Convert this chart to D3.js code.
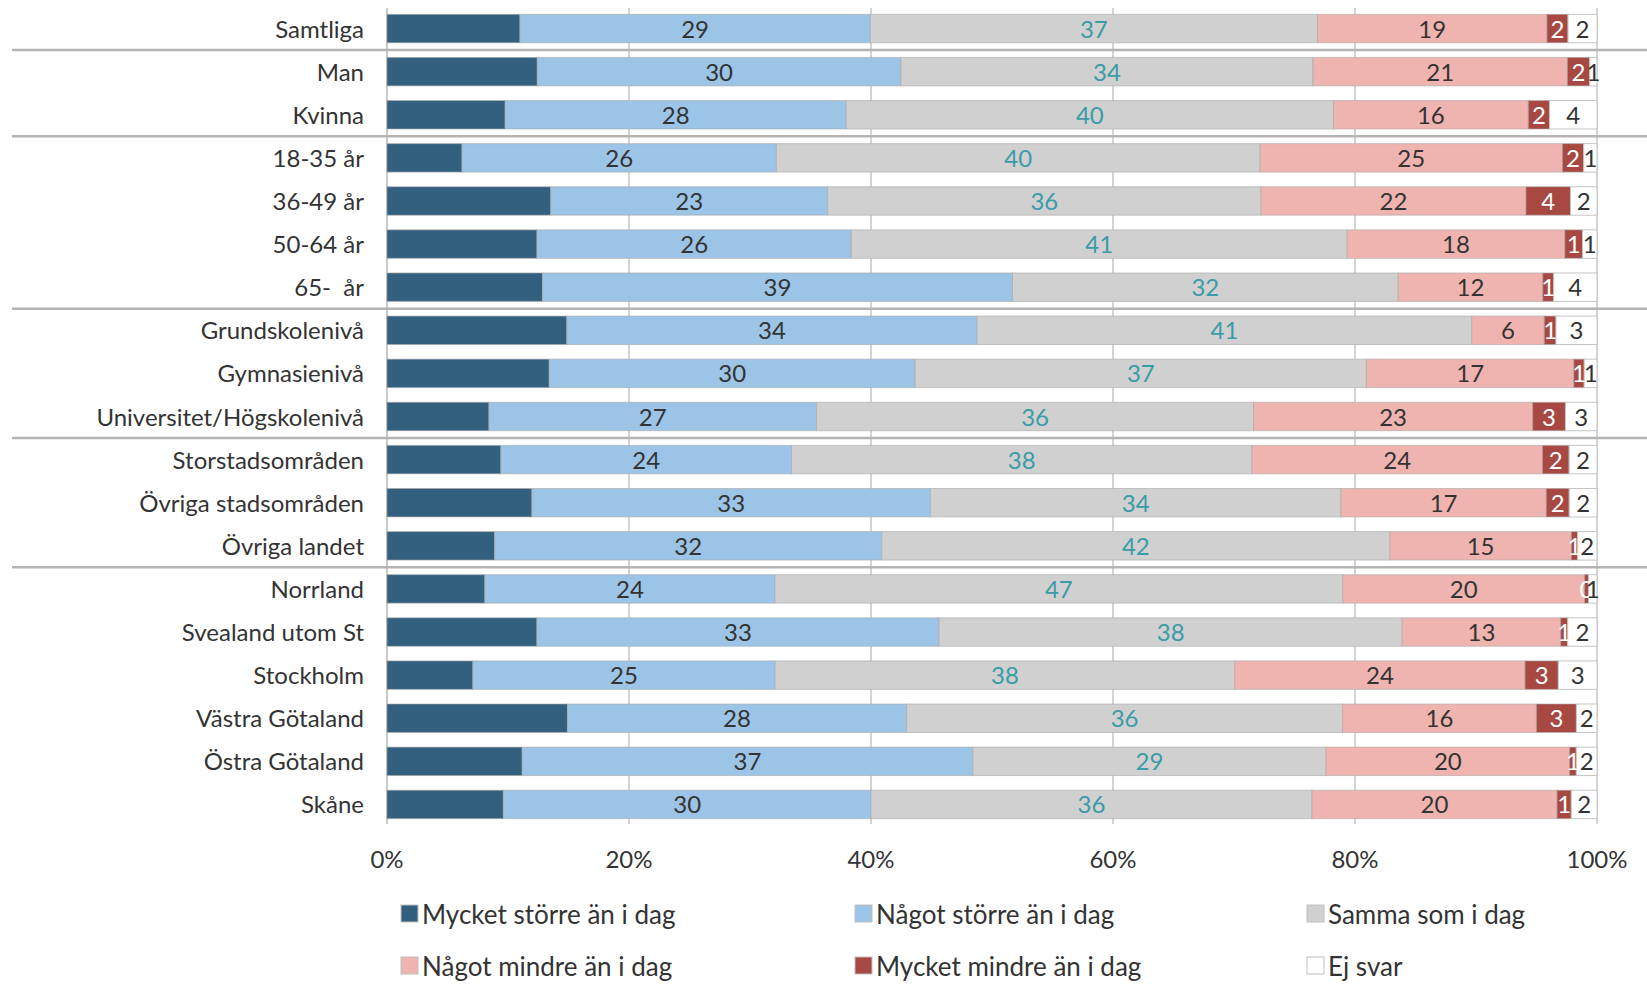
<!DOCTYPE html>
<html><head><meta charset="utf-8">
<script src="https://cdn.jsdelivr.net/npm/d3@7"></script>
<style>
body{margin:0;background:#fff;}
svg{display:block;}
text{font-family:Lato,'Open Sans',sans-serif;}
</style>
</head><body>
<svg id="chart" width="1647" height="984"></svg>
<script>
// ---- data ----
const categories = ["Samtliga","Man","Kvinna","18-35 år","36-49 år","50-64 år","65-  år",
  "Grundskolenivå","Gymnasienivå","Universitet/Högskolenivå",
  "Storstadsområden","Övriga stadsområden","Övriga landet",
  "Norrland","Svealand utom St","Stockholm","Västra Götaland","Östra Götaland","Skåne"];
const seriesNames = ["Mycket större än i dag","Något större än i dag","Samma som i dag",
  "Något mindre än i dag","Mycket mindre än i dag","Ej svar"];
const mycketStorre = [11, 12.4, 9.7, 6.2, 13.6, 12.4, 12.9, 14.9, 13.3, 8.4, 9.4, 12, 8.9, 8.1, 12.3, 7.1, 14.9, 11.1, 9.5];
const nagotStorre  = [29, 30, 28, 26, 23, 26, 39, 34, 30, 27, 24, 33, 32, 24, 33, 25, 28, 37, 30];
const sammaSom     = [37, 34, 40, 40, 36, 41, 32, 41, 37, 36, 38, 34, 42, 47, 38, 38, 36, 29, 36];
const nagotMindre  = [19, 21, 16, 25, 22, 18, 12, 6, 17, 23, 24, 17, 15, 20, 13, 24, 16, 20, 20];
const mycketMindre = [1.74, 1.84, 1.74, 1.76, 3.7, 1.46, 0.9, 0.97, 0.85, 2.7, 2.2, 1.9, 0.52, 0.33, 0.58, 2.75, 3.3, 0.55, 1.16];
const ejSvar       = [2.4, 0.6, 3.9, 1.1, 2.2, 1.2, 3.6, 3.4, 1.05, 2.6, 2.3, 2.3, 1.6, 0.7, 2.4, 3.2, 1.7, 1.7, 2.1];
const groupEnds = ["Samtliga","Kvinna","65-  år","Universitet/Högskolenivå","Övriga landet"];
const tickValues = [0, 0.2, 0.4, 0.6, 0.8, 1];
const tickLabels = ["0%","20%","40%","60%","80%","100%"];

// ---- styles ----
const colors = ["#34607f","#9cc4e6","#d0d0d0","#f0b4b0","#a84843","#ffffff"];
const labelColors = [null,"#333333","#3a9ca6","#333333","#ffffff","#333333"];
const keys = ["s0","s1","s2","s3","s4","s5"];
const seriesArrays = [mycketStorre,nagotStorre,sammaSom,nagotMindre,mycketMindre,ejSvar];

const rows = categories.map((c,i)=>{
  const r = {cat:c};
  keys.forEach((k,j)=> r[k] = seriesArrays[j][i]);
  return r;
});

const svg = d3.select("#chart");
const x = d3.scaleLinear().domain([0,1]).range([387,1597]);
const y = d3.scaleBand().domain(categories).range([7,826]).paddingInner(0.34).paddingOuter(0.17);

// gridlines + y axis line
svg.append("g").selectAll("line").data(tickValues).join("line")
  .attr("x1",d=>x(d)).attr("x2",d=>x(d))
  .attr("y1",8).attr("y2",824)
  .attr("stroke",(d,i)=>i===0?"#c8c8c8":"#d4d4d4").attr("stroke-width",2);

const stack = d3.stack().keys(keys).offset(d3.stackOffsetExpand);
const stacked = stack(rows);

const gBars = svg.append("g");
stacked.forEach((layer,j)=>{
  gBars.append("g").selectAll("rect").data(layer).join("rect")
    .attr("x",d=>x(d[0]))
    .attr("width",d=>Math.max(0,x(d[1])-x(d[0])))
    .attr("y",d=>y(d.data.cat))
    .attr("height",y.bandwidth())
    .attr("fill",colors[j])
    .attr("stroke",j===5?"#c4c4c4":"#a9a9a9")
    .attr("stroke-opacity",j===5?1:0.6)
    .attr("stroke-width",1);
});

// value labels
stacked.forEach((layer,j)=>{
  if (j===0) return;
  svg.append("g").selectAll("text").data(layer).join("text")
    .attr("x",d=>(x(d[0])+x(d[1]))/2)
    .attr("y",d=>y(d.data.cat)+y.bandwidth()/2+9)
    .attr("text-anchor","middle")
    .attr("font-size",24)
    .attr("fill",labelColors[j])
    .text(d=>Math.round(d.data[keys[j]]));
});

// category labels
svg.append("g").selectAll("text").data(categories).join("text")
  .attr("x",364)
  .attr("y",d=>y(d)+y.bandwidth()/2+9)
  .attr("text-anchor","end")
  .attr("font-size",24)
  .attr("fill","#333333")
  .style("white-space","pre")
  .text(d=>d);

// group separators
const step = y.step();
svg.append("g").selectAll("line").data(groupEnds).join("line")
  .attr("x1",12).attr("x2",1647)
  .attr("y1",d=>y(d)+y.bandwidth()+(step-y.bandwidth())/2)
  .attr("y2",d=>y(d)+y.bandwidth()+(step-y.bandwidth())/2)
  .attr("stroke","#b4b4b4").attr("stroke-width",2.5);

// x tick labels
svg.append("g").selectAll("text").data(tickValues).join("text")
  .attr("x",d=>x(d)).attr("y",868)
  .attr("text-anchor","middle").attr("font-size",24).attr("fill","#333333")
  .text((d,i)=>tickLabels[i]);

// legend
const legX = [401, 855, 1307];
const legY = [915, 967];
const leg = svg.append("g").selectAll("g").data(seriesNames).join("g")
  .attr("transform",(d,i)=>`translate(${legX[i%3]},${legY[Math.floor(i/3)]})`);
leg.append("rect").attr("x",0).attr("y",-10).attr("width",17).attr("height",17)
  .attr("fill",(d,i)=>colors[i]).attr("stroke","#c0c0c0").attr("stroke-width",1);
leg.append("text").attr("x",21).attr("y",9).attr("font-size",26).attr("fill","#333333")
  .text(d=>d);
</script>
</body></html>
